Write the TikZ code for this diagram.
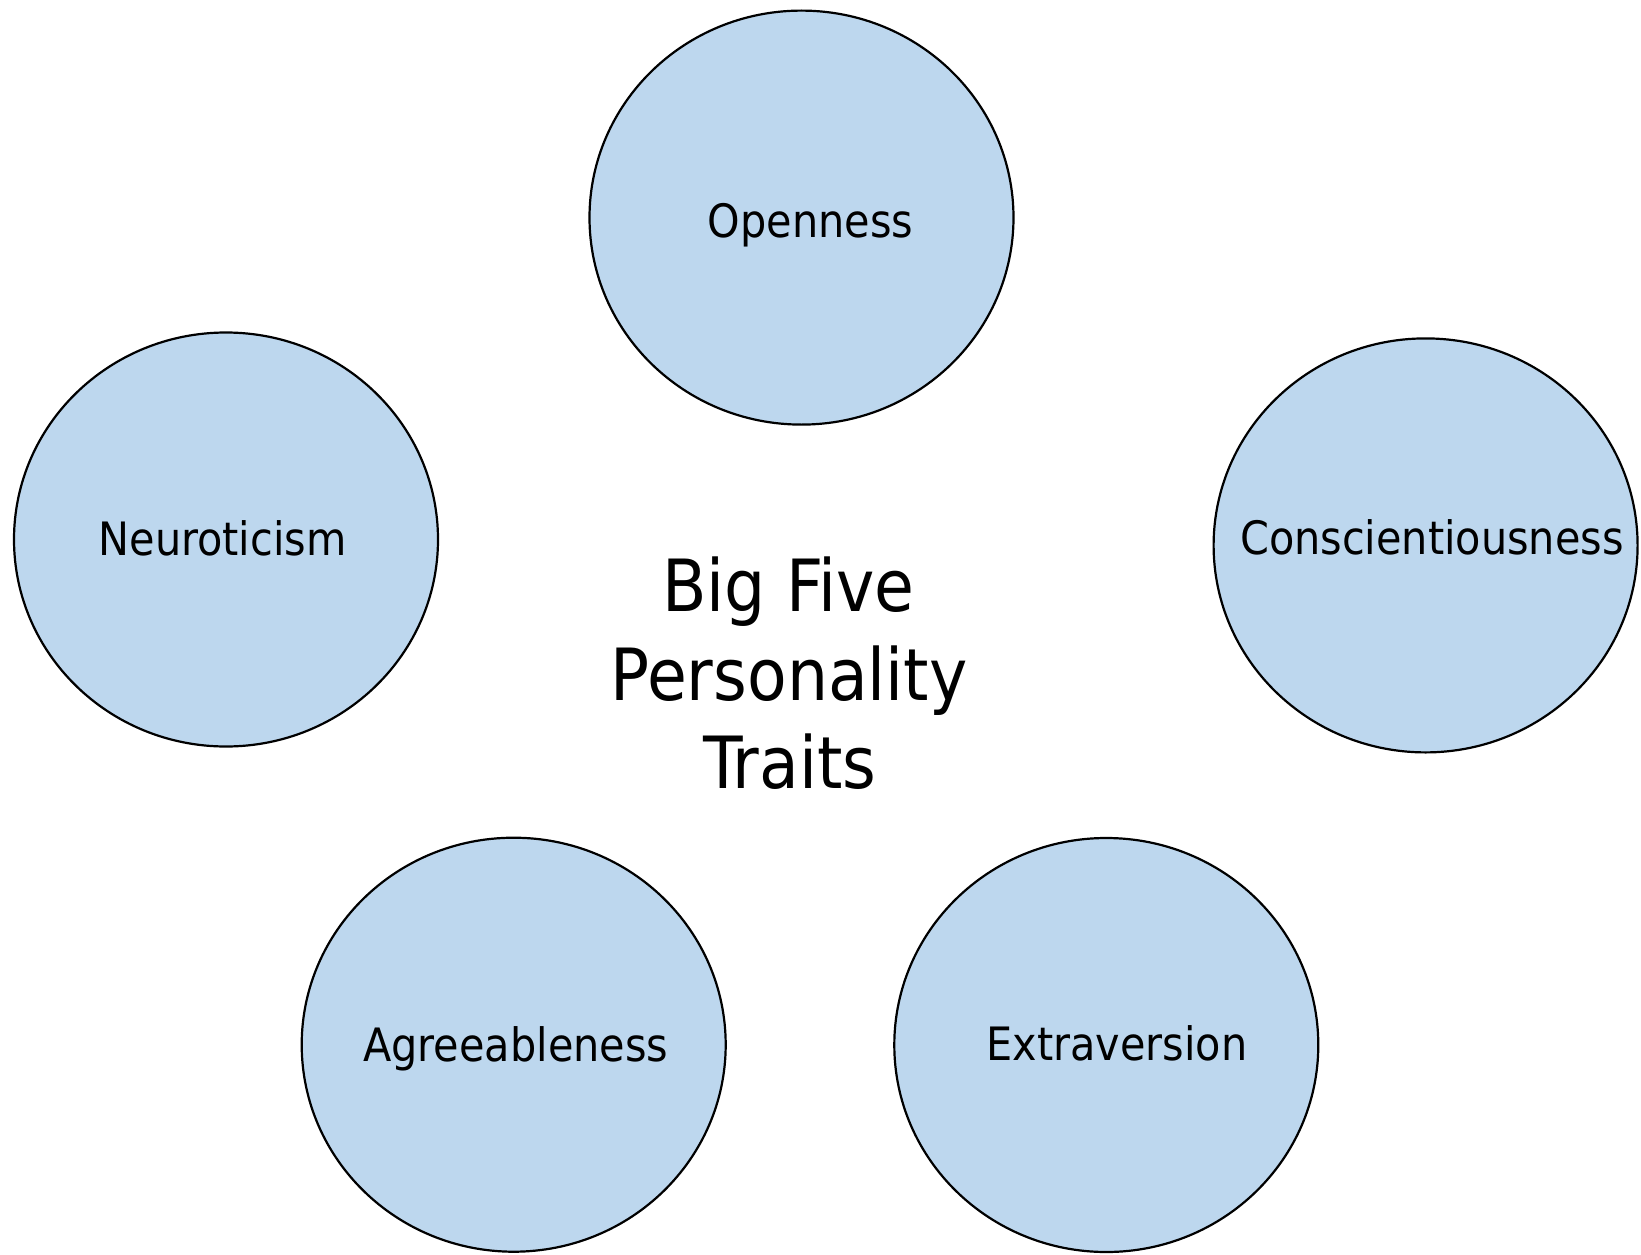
\documentclass[tikz,border=0pt]{standalone}
\usepackage{fontspec}
\setmainfont{DejaVu Sans Condensed}
\usetikzlibrary{shapes.geometric}
\definecolor{traitfill}{HTML}{BDD7EE}
\begin{document}
\begin{tikzpicture}[x=1pt,y=-1pt,
  trait/.style={ellipse,draw=black,line width=2.2pt,fill=traitfill,minimum width=424pt,minimum height=414pt,inner sep=0pt},
  lbl/.style={anchor=base,font=\fontsize{46}{55}\selectfont,inner sep=0pt},
  ttl/.style={anchor=base,font=\fontsize{72}{86}\selectfont,inner sep=0pt}]
\useasboundingbox (0,0) rectangle (1641,1255);
\node[trait] (open) at (801.5,217.6) {};
\node[trait] (neuro) at (226,539.5) {};
\node[trait] (consc) at (1425.6,545.4) {};
\node[trait] (agree) at (513.7,1044.7) {};
\node[trait] (extra) at (1106.3,1045) {};
\node[lbl] (topen) at (810.6,237) {Openness};
\node[lbl] (tneuro) at (222.5,555) {Neuroticism};
\node[lbl] (tconsc) at (1432,554) {Conscientiousness};
\node[lbl] (tagree) at (515.8,1061.7) {Agreeableness};
\node[lbl] (textra) at (1117,1060.7) {Extraversion};
\node[ttl] (t1) at (788.5,611.7) {Big Five};
\node[ttl] (t2) at (789,700) {Personality};
\node[ttl] (t3) at (790,788) {Traits};
\end{tikzpicture}
\end{document}
